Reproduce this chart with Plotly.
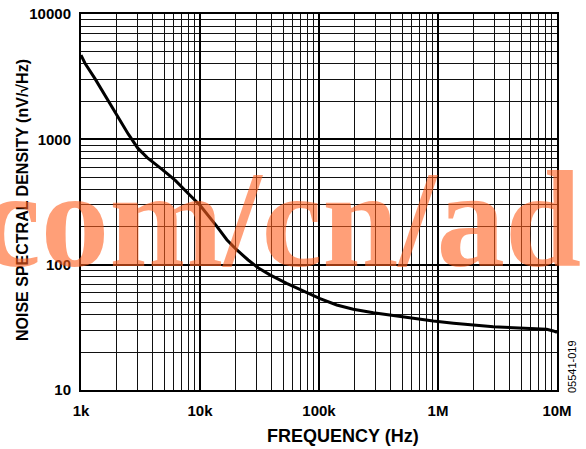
import plotly.graph_objects as go

# Data
freq_hz = [1000, 1080, 1310, 1590, 2000, 2500, 3000, 3600, 4800, 6200, 8000,
           10000, 13800, 16800, 20400, 25400, 31000, 38700, 53500, 73600,
           102000, 141000, 194000, 286000, 421000, 620000, 914000, 1350000,
           1980000, 2920000, 4300000, 6320000, 8190000, 9310000, 10000000]
noise_nv = [4700, 4050, 3050, 2250, 1530, 1100, 850, 715, 575, 470, 368,
            298, 203, 158, 131, 109, 94, 83, 71, 62,
            53.5, 47.7, 44.1, 41.4, 39.2, 37.3, 35.5, 34.1,
            33.0, 32.0, 31.4, 30.8, 30.5, 29.6, 28.8]

x_tick_vals = [1e3, 1e4, 1e5, 1e6, 1e7]
x_tick_text = ["1k", "10k", "100k", "1M", "10M"]
y_tick_vals = [10, 100, 1000, 10000]
y_tick_text = ["10", "100", "1000", "10000"]

x_minor = [m * 10 ** e for e in range(3, 7) for m in range(2, 10)]
y_minor = [m * 10 ** e for e in range(1, 4) for m in range(2, 10)]

L, R, T, B = 81, 29, 14, 59
W, H = 586, 449
pw = W - L - R
ph = H - T - B


def px(xp):
    return (xp - L) / pw


def py(yp):
    return (H - B - yp) / ph


fig = go.Figure()
fig.add_trace(go.Scatter(x=freq_hz, y=noise_nv, mode="lines",
                         line=dict(color="black", width=3, shape="linear"),
                         showlegend=False, hoverinfo="skip"))

sans = "Arial, Liberation Sans, sans-serif"
tickfont = dict(family=sans, size=15, color="black", weight="bold")

fig.update_layout(
    width=W, height=H,
    margin=dict(l=L, r=R, t=T, b=B, pad=0),
    paper_bgcolor="white", plot_bgcolor="white",
    xaxis=dict(type="log", range=[3, 7], tickvals=x_tick_vals, ticktext=x_tick_text,
               showgrid=True, gridcolor="black", gridwidth=2,
               minor=dict(tickvals=x_minor, showgrid=True, gridcolor="#111", gridwidth=1, ticks=""),
               showline=True, linecolor="black", linewidth=2, mirror=True,
               ticks="", tickfont=tickfont, ticklabelstandoff=6,
               automargin=False, zeroline=False),
    yaxis=dict(type="log", range=[1, 4], tickvals=y_tick_vals, ticktext=y_tick_text,
               showgrid=True, gridcolor="black", gridwidth=2,
               minor=dict(tickvals=y_minor, showgrid=True, gridcolor="#111", gridwidth=1, ticks=""),
               showline=True, linecolor="black", linewidth=2, mirror=True,
               ticks="", tickfont=tickfont, ticklabelstandoff=5,
               automargin=False, zeroline=False),
)

# axis titles
fig.add_annotation(text="FREQUENCY (Hz)", xref="paper", yref="paper",
                   x=px(343), y=py(436), xanchor="center", yanchor="middle", showarrow=False,
                   font=dict(family=sans, size=18, color="black", weight="bold"))
fig.add_annotation(text="NOISE SPECTRAL DENSITY (nV/√Hz)", xref="paper", yref="paper",
                   x=px(22), y=py(200), xanchor="center", yanchor="middle", showarrow=False,
                   textangle=-90,
                   font=dict(family=sans, size=16, color="black", weight="bold"))

# watermark
fig.add_annotation(text="com/cn/ad", xref="paper", yref="paper",
                   x=px(280), y=py(220), xanchor="center", yanchor="middle",
                   showarrow=False,
                   font=dict(family="Liberation Serif", size=137,
                             color="rgba(255,95,30,0.6)", weight="bold"))

# figure code
fig.add_annotation(text="05541-019", xref="paper", yref="paper",
                   x=px(572), y=py(367), xanchor="center", yanchor="middle",
                   textangle=-90, showarrow=False,
                   font=dict(family=sans, size=11, color="black"))

fig.write_html("out.html", config={"displayModeBar": False},
               post_script="document.body.style.margin='0';")
